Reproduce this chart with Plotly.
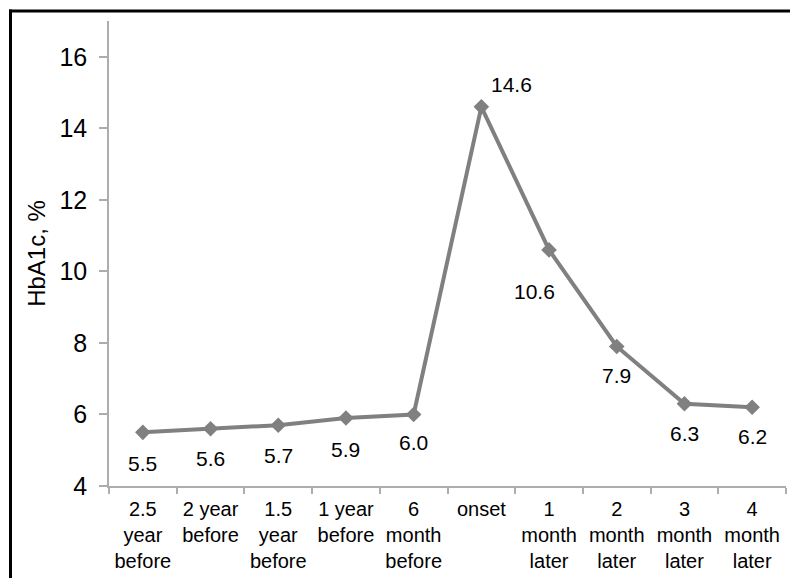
import plotly.graph_objects as go

categories = ["2.5<br>year<br>before", "2 year<br>before", "1.5<br>year<br>before", "1 year<br>before",
              "6<br>month<br>before", "onset", "1<br>month<br>later", "2<br>month<br>later",
              "3<br>month<br>later", "4<br>month<br>later"]
hba1c = [5.5, 5.6, 5.7, 5.9, 6.0, 14.6, 10.6, 7.9, 6.3, 6.2]
value_labels = ["5.5", "5.6", "5.7", "5.9", "6.0", "14.6", "10.6", "7.9", "6.3", "6.2"]
y_ticks = [4, 6, 8, 10, 12, 14, 16]

# label offsets (style only), in pixels
label_dx = [0, 0, 0, 0, 0, 30, -15, 0, 0, 0]
label_dy = [-31, -30, -30, -31, -28, 22, -42, -29, -30, -29]

FONT = "Liberation Sans, Arial, sans-serif"
GRAY = "#808080"
AXIS = "#ADADAD"

fig = go.Figure()
fig.add_trace(go.Scatter(
    x=categories, y=hba1c, mode="lines+markers",
    line=dict(color=GRAY, width=4),
    marker=dict(symbol="diamond", size=12, color=GRAY),
    hoverinfo="skip", showlegend=False,
))

for c, v, t, dx, dy in zip(categories, hba1c, value_labels, label_dx, label_dy):
    fig.add_annotation(x=c, y=v, text=t, showarrow=False, xshift=dx, yshift=dy,
                       font=dict(family=FONT, size=21, color="black"))

# page body has an 8px margin, so figure coordinates are offset by 8px
OFF = 8
L, T = 109 - OFF, 21 - OFF
W, H = 782, 570
pw, ph = 677, 465
R = W - L - pw
B = H - T - ph

def px_x(px):
    return (px - OFF - L) / pw

def px_y(py):
    return (T + ph - (py - OFF)) / ph

# outer frame: only left and top edges fall inside the picture
border = dict(color="black", width=3)
fig.add_shape(type="line", xref="paper", yref="paper",
              x0=px_x(10.5), x1=px_x(10.5), y0=px_y(700), y1=px_y(9.5), line=border, layer="above")
fig.add_shape(type="line", xref="paper", yref="paper",
              x0=px_x(9), x1=px_x(900), y0=px_y(11), y1=px_y(11), line=border, layer="above")

fig.update_layout(
    width=W, height=H,
    margin=dict(l=L, r=R, t=T, b=B, pad=0, autoexpand=False),
    paper_bgcolor="white", plot_bgcolor="white",
    font=dict(family=FONT, color="black"),
    xaxis=dict(type="category", tickson="boundaries", ticks="outside", ticklen=6,
               tickcolor=AXIS, tickwidth=1.5, showline=True, linecolor=AXIS, linewidth=1.5,
               showgrid=False, zeroline=False, tickfont=dict(size=20, color="black"),
               tickangle=0, automargin=False, ticklabelstandoff=4,
               range=[-0.5, 9.5], fixedrange=True),
    yaxis=dict(range=[4, 17], tickvals=y_ticks, ticks="outside", ticklen=8,
               tickcolor=AXIS, tickwidth=1.5, showline=True, linecolor=AXIS, linewidth=1.5,
               showgrid=False, zeroline=False, tickfont=dict(size=25, color="black"),
               ticklabelstandoff=7, automargin=False,
               title=dict(text="HbA1c, %", font=dict(size=24, color="black"), standoff=7)),
)

fig.write_html("out.html")
